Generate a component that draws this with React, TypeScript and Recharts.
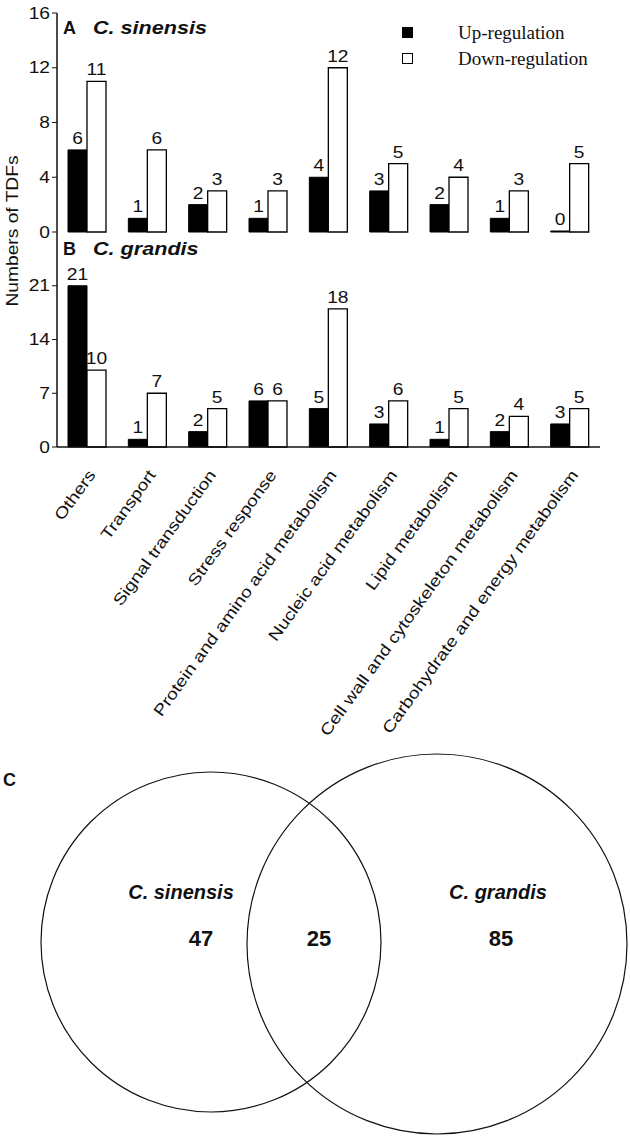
import { BarChart, Bar, XAxis, YAxis, LabelList, Legend, ScatterChart, Scatter } from 'recharts';

const categories = [
  'Others',
  'Transport',
  'Signal transduction',
  'Stress response',
  'Protein and amino acid metabolism',
  'Nucleic acid metabolism',
  'Lipid metabolism',
  'Cell wall and cytoskeleton metabolism',
  'Carbohydrate and energy metabolism',
];
const sinensisUp = [6, 1, 2, 1, 4, 3, 2, 1, 0];
const sinensisDown = [11, 6, 3, 3, 12, 5, 4, 3, 5];
const grandisUp = [21, 1, 2, 6, 5, 3, 1, 2, 3];
const grandisDown = [10, 7, 5, 6, 18, 6, 5, 4, 5];
const ticksA = [0, 4, 8, 12, 16];
const ticksB = [0, 7, 14, 21];
const seriesNames = ['Up-regulation', 'Down-regulation'];

// venn counts: only sinensis, shared, only grandis
const vennCounts = [47, 25, 85];
const vennNames = ['C. sinensis', 'C. grandis'];

const SANS = '"Liberation Sans", Arial, sans-serif';
const SERIF = '"Liberation Serif", "Times New Roman", serif';
const STRETCH = 1.2; // the source text is drawn wider than plain Arial

const dataA = categories.map((cat, i) => ({ cat, up: sinensisUp[i], down: sinensisDown[i] }));
const dataB = categories.map((cat, i) => ({ cat, up: grandisUp[i], down: grandisDown[i] }));

// venn layout, page pixels
const vennCircles = [
  { x: 211, y: 942, r: 170 },
  { x: 437, y: 944, r: 190 },
];
const vennLabels = [
  { x: 181, y: 899, text: vennNames[0], italic: true, size: 20 },
  { x: 498, y: 899, text: vennNames[1], italic: true, size: 20 },
  { x: 201, y: 946, text: String(vennCounts[0]), italic: false, size: 22 },
  { x: 319, y: 946, text: String(vennCounts[1]), italic: false, size: 22 },
  { x: 501, y: 946, text: String(vennCounts[2]), italic: false, size: 22 },
];

const CatTick = ({ x, y, payload }: any) => (
  <g transform={`translate(${x + 9},${y + 20}) rotate(-54) scale(${STRETCH},1)`}>
    <text x={0} y={0} textAnchor="end" fontSize={16} fontFamily={SANS} fill="#111">
      {payload.value}
    </text>
  </g>
);

const NumTick = ({ x, y, payload }: any) => (
  <g transform={`translate(${x},${y}) scale(${STRETCH},1)`}>
    <text x={0} y={0} dy="0.35em" textAnchor="end" fontSize={16} fontFamily={SANS} fill="#111">
      {payload.value}
    </text>
  </g>
);

const BarValue = (props: any) => {
  const { x, y, width, value } = props;
  return (
    <g transform={`translate(${x + width / 2},${y - 6}) scale(${STRETCH},1)`}>
      <text x={0} y={0} textAnchor="middle" fontSize={16} fontFamily={SANS} fill="#111">{String(value)}</text>
    </g>
  );
};

const LegendBox = () => (
  <div style={{ fontFamily: SERIF, fontSize: 19, color: '#111' }}>
    {seriesNames.map((name, i) => (
      <div key={name} style={{ display: 'flex', alignItems: 'center', height: 26 }}>
        <span style={{
          display: 'inline-block', width: 9, height: 9, border: '1px solid #000',
          background: i === 0 ? '#000' : '#fff', marginRight: 45,
        }} />
        <span style={{ position: 'relative', top: 1 }}>{name}</span>
      </div>
    ))}
  </div>
);

const frameLine = { stroke: '#111', strokeWidth: 1.5 };

const panelTitle = (letter: string, name: string, top: number) => (
  <div style={{ position: 'absolute', left: 63, top, fontFamily: SANS, fontWeight: 700, fontSize: 18, color: '#111', whiteSpace: 'nowrap' }}>
    {letter}
    <span style={{ display: 'inline-block', fontStyle: 'italic', marginLeft: 17, transform: `scaleX(${STRETCH})`, transformOrigin: 'left center' }}>{name}</span>
  </div>
);

const App = () => (
  <div style={{ position: 'absolute', left: 0, top: 0, width: 630, height: 1137, background: '#fff' }}>
    <BarChart width={630} height={244} data={dataA} margin={{ top: 13, right: 30, left: 0, bottom: 12 }}
      barGap={0} style={{ position: 'absolute', left: 0, top: 0 }}>
      <XAxis dataKey="cat" tick={false} tickLine={false} height={0} axisLine={frameLine} />
      <XAxis xAxisId="top" dataKey="cat" orientation="top" tick={false} tickLine={false} height={0} axisLine={frameLine} />
      <YAxis width={57} domain={[0, 16]} ticks={ticksA} tick={<NumTick />} tickSize={5}
        tickLine={{ stroke: '#111' }} axisLine={frameLine} interval={0} />
      <YAxis yAxisId="r" orientation="right" width={0} domain={[0, 1]} tick={false} tickLine={false} axisLine={frameLine} />
      <Legend layout="vertical" align="center" verticalAlign="middle" content={LegendBox}
        wrapperStyle={{ left: 402, top: 19, width: 220 }} />
      <Bar dataKey="up" name={seriesNames[0]} fill="#000" stroke="#000" barSize={19} minPointSize={1} isAnimationActive={false}>
        <LabelList dataKey="up" content={BarValue} />
      </Bar>
      <Bar dataKey="down" name={seriesNames[1]} fill="#fff" stroke="#000" strokeWidth={1.3} barSize={19} isAnimationActive={false}>
        <LabelList dataKey="down" content={BarValue} />
      </Bar>
    </BarChart>

    <BarChart width={630} height={515} data={dataB} margin={{ top: 0, right: 30, left: 0, bottom: 0 }}
      barGap={0} style={{ position: 'absolute', left: 0, top: 232 }}>
      <XAxis dataKey="cat" tick={<CatTick />} tickLine={false} height={300} interval={0} axisLine={frameLine} />
      <YAxis width={57} domain={[0, 28]} ticks={ticksB} tick={<NumTick />} tickSize={5}
        tickLine={{ stroke: '#111' }} axisLine={frameLine} interval={0} />
      <YAxis yAxisId="r" orientation="right" width={0} domain={[0, 1]} tick={false} tickLine={false} axisLine={frameLine} />
      <Bar dataKey="up" name={seriesNames[0]} fill="#000" stroke="#000" barSize={19} isAnimationActive={false}>
        <LabelList dataKey="up" content={BarValue} />
      </Bar>
      <Bar dataKey="down" name={seriesNames[1]} fill="#fff" stroke="#000" strokeWidth={1.3} barSize={19} isAnimationActive={false}>
        <LabelList dataKey="down" content={BarValue} />
      </Bar>
    </BarChart>

    {panelTitle('A', 'C. sinensis', 18)}
    {panelTitle('B', 'C. grandis', 239)}

    <div style={{
      position: 'absolute', left: 13 - 100, top: 231 - 10, width: 200, height: 20, textAlign: 'center',
      transform: `rotate(-90deg) scaleX(${STRETCH})`, fontFamily: SANS, fontSize: 16, lineHeight: '20px', color: '#111',
    }}>
      Numbers of TDFs
    </div>

    <div style={{ position: 'absolute', left: 3, top: 770, fontFamily: SANS, fontWeight: 700, fontSize: 18, color: '#111' }}>C</div>

    <ScatterChart width={630} height={397} margin={{ top: 0, right: 0, left: 0, bottom: 0 }}
      style={{ position: 'absolute', left: 0, top: 740 }}>
      <XAxis type="number" dataKey="x" domain={[0, 630]} hide />
      <YAxis type="number" dataKey="y" domain={[740, 1137]} reversed hide />
      <Scatter data={vennCircles} isAnimationActive={false}
        shape={(p: any) => <circle cx={p.cx} cy={p.cy} r={p.payload.r} fill="none" stroke="#111" strokeWidth={1.2} />} />
      <Scatter data={vennLabels} isAnimationActive={false}
        shape={(p: any) => (
          <text x={p.cx} y={p.cy} textAnchor="middle" fontFamily={SANS} fontWeight={700}
            fontStyle={p.payload.italic ? 'italic' : 'normal'} fontSize={p.payload.size} fill="#111">
            {p.payload.text}
          </text>
        )} />
    </ScatterChart>
  </div>
);

export default App;
